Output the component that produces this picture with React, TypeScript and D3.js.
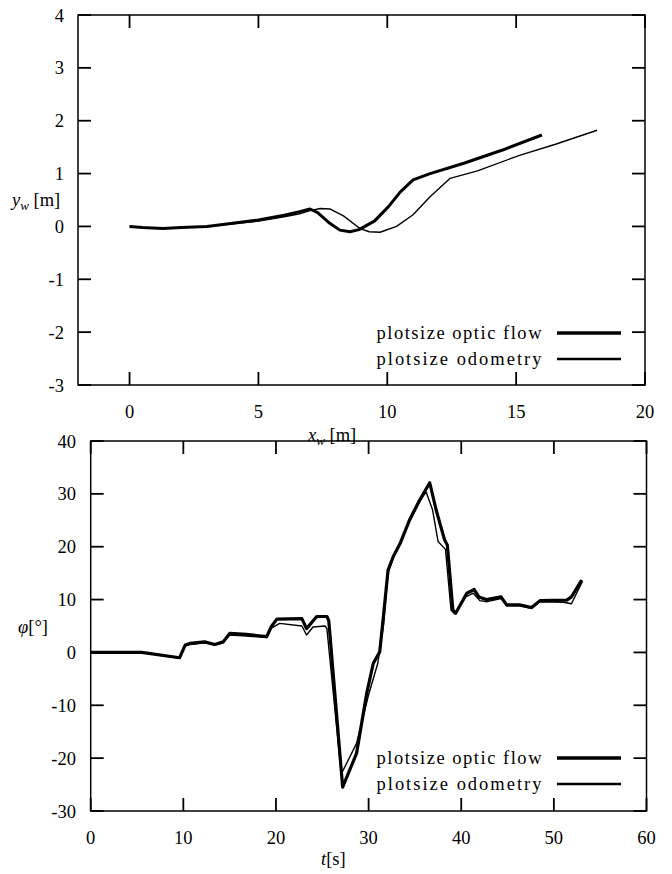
import React from "react";
import * as d3 from "d3";

// top plot: trajectory in world coordinates
const flowX = [0, 0.5, 1.3, 2.0, 3.0, 4.0, 5.0, 6.0, 6.6, 7.0, 7.3, 7.77, 8.16, 8.55, 8.9, 9.5, 10.04, 10.5, 11.0, 11.66, 13.0, 14.5, 16.0];
const flowY = [0, -0.02, -0.04, -0.02, 0.0, 0.06, 0.12, 0.21, 0.28, 0.33, 0.26, 0.06, -0.07, -0.1, -0.06, 0.1, 0.37, 0.65, 0.88, 1.0, 1.2, 1.45, 1.73];
const odoX = [0, 0.5, 1.3, 2.0, 3.0, 4.0, 5.0, 6.0, 6.6, 7.0, 7.4, 7.77, 8.3, 8.94, 9.3, 9.72, 10.36, 11.0, 11.66, 12.44, 13.5, 15.16, 16.5, 18.14];
const odoY = [0, -0.02, -0.04, -0.02, 0.0, 0.05, 0.1, 0.18, 0.24, 0.3, 0.34, 0.33, 0.2, -0.04, -0.1, -0.11, 0.0, 0.22, 0.56, 0.91, 1.05, 1.35, 1.55, 1.82];

// bottom plot: heading over time
const flowT = [0, 5.5, 9.6, 10.2, 10.7, 12.3, 13.4, 14.3, 15.0, 16.8, 19.0, 19.5, 20.1, 22.8, 23.3, 24.4, 25.5, 25.7, 27.2, 28.7, 29.8, 30.5, 31.2, 31.6, 32.1, 32.65, 33.4, 34.4, 35.5, 36.6, 37.3, 38.2, 38.5, 39.1, 39.4, 40.6, 41.4, 41.9, 42.7, 44.3, 44.9, 46.3, 47.6, 48.5, 51.4, 51.9, 53.0];
const flowPhi = [0, 0, -1.0, 1.4, 1.7, 2.0, 1.5, 2.0, 3.6, 3.4, 3.0, 4.9, 6.3, 6.4, 4.5, 6.8, 6.8, 6.0, -25.5, -19.1, -7.7, -2.1, 0.1, 6.8, 15.6, 18.1, 20.6, 25.0, 28.8, 32.1, 26.9, 21.3, 20.3, 8.0, 7.4, 11.2, 11.9, 10.5, 10.0, 10.5, 9.0, 9.0, 8.5, 9.8, 9.9, 10.5, 13.7];
const odoT = [0, 5.5, 9.6, 10.2, 10.7, 12.3, 13.4, 14.3, 15.0, 16.8, 19.0, 19.5, 20.4, 22.8, 23.3, 24.0, 25.3, 25.5, 27.05, 28.7, 30.0, 31.0, 31.6, 32.1, 32.7, 33.5, 34.5, 35.5, 36.2, 36.9, 37.5, 38.3, 38.9, 39.3, 40.5, 41.3, 42.0, 42.8, 44.3, 44.9, 46.3, 47.6, 48.5, 51.0, 51.9, 52.4, 53.1];
const odoPhi = [0, 0, -1.1, 1.2, 1.5, 1.8, 1.4, 1.8, 3.3, 3.1, 2.8, 4.6, 5.5, 5.0, 3.3, 4.8, 5.0, 4.5, -23.0, -17.2, -8.0, -2.0, 5.0, 15.0, 18.0, 21.0, 25.0, 28.5, 30.4, 27.0, 21.0, 19.5, 8.0, 7.3, 10.5, 11.2, 9.8, 9.6, 10.2, 8.8, 8.8, 8.3, 9.6, 9.5, 9.2, 11.0, 13.5];

const legendLabels = ["plotsize optic flow", "plotsize odometry"];

const xTicksTop = [0, 5, 10, 15, 20];
const yTicksTop = [-3, -2, -1, 0, 1, 2, 3, 4];
const xTicksBot = [0, 10, 20, 30, 40, 50, 60];
const yTicksBot = [-30, -20, -10, 0, 10, 20, 30, 40];

const FONT = "Liberation Serif";
const TICK = 13;
const txt = { fontFamily: FONT, fontSize: 18.5 };

function Panel({ x, y, series, xTicks, yTicks, labelRight, legendY }) {
  const [x0, x1] = x.range();
  const [y0, y1] = y.range(); // y0 bottom, y1 top
  return (
    <g>
      {series.map((s, i) => {
        const line = d3
          .line<number>()
          .x((_, j) => x(s.xs[j]))
          .y((_, j) => y(s.ys[j]));
        return (
          <path
            key={i}
            d={line(s.xs) || ""}
            fill="none"
            stroke="#000"
            strokeWidth={s.w}
            strokeLinejoin="round"
          />
        );
      })}
      <rect x={x0} y={y1} width={x1 - x0} height={y0 - y1} fill="none" stroke="#000" strokeWidth={1.5} />
      {xTicks.map((t) => (
        <g key={"x" + t}>
          <line x1={x(t)} x2={x(t)} y1={y0} y2={y0 - TICK} stroke="#000" strokeWidth={1.8} />
          <line x1={x(t)} x2={x(t)} y1={y1} y2={y1 + TICK} stroke="#000" strokeWidth={1.8} />
          <text x={x(t)} y={y0 + 33} textAnchor="middle" style={txt}>
            {t}
          </text>
        </g>
      ))}
      {yTicks.map((t) => (
        <g key={"y" + t}>
          <line x1={x0} x2={x0 + TICK} y1={y(t)} y2={y(t)} stroke="#000" strokeWidth={1.8} />
          <line x1={x1} x2={x1 - TICK} y1={y(t)} y2={y(t)} stroke="#000" strokeWidth={1.8} />
          <text x={labelRight} y={y(t) + 6.5} textAnchor="end" style={txt}>
            {t}
          </text>
        </g>
      ))}
      {legendLabels.map((lab, i) => {
        const ly = legendY[i];
        return (
          <g key={lab}>
            <text x={541.5} y={ly + 5.5} textAnchor="end" style={txt} textLength={165} lengthAdjust="spacing">
              {lab}
            </text>
            <line x1={557} x2={621} y1={ly} y2={ly} stroke="#000" strokeWidth={i === 0 ? 3.6 : 2.6} />
          </g>
        );
      })}
    </g>
  );
}

export default function App() {
  const xTop = d3.scaleLinear().domain([-2, 20]).range([78, 645]);
  const yTop = d3.scaleLinear().domain([-3, 4]).range([385, 15]);
  const xBot = d3.scaleLinear().domain([0, 60]).range([90.7, 646.5]);
  const yBot = d3.scaleLinear().domain([-30, 40]).range([811, 441]);

  return (
    <svg width={672} height={874} style={{ position: "absolute", left: 0, top: 0, background: "#fff" }}>
      <Panel
        x={xTop}
        y={yTop}
        series={[
          { xs: flowX, ys: flowY, w: 3 },
          { xs: odoX, ys: odoY, w: 1.4 },
        ]}
        xTicks={xTicksTop}
        yTicks={yTicksTop}
        labelRight={64}
        legendY={[333, 359]}
      />
      <text x={12} y={206} style={txt}>
        <tspan fontStyle="italic">y</tspan>
        <tspan fontStyle="italic" fontSize={13} dy={4}>w</tspan>
        <tspan dy={-4}> [m]</tspan>
      </text>
      <text x={308} y={441} style={txt}>
        <tspan fontStyle="italic">x</tspan>
        <tspan fontStyle="italic" fontSize={13} dy={4}>w</tspan>
        <tspan dy={-4}> [m]</tspan>
      </text>
      <Panel
        x={xBot}
        y={yBot}
        series={[
          { xs: flowT, ys: flowPhi, w: 3.2 },
          { xs: odoT, ys: odoPhi, w: 1.4 },
        ]}
        xTicks={xTicksBot}
        yTicks={yTicksBot}
        labelRight={76}
        legendY={[758, 784]}
      />
      <text x={18} y={633} style={txt}>
        <tspan fontStyle="italic">φ</tspan>
        <tspan>[°]</tspan>
      </text>
      <text x={321} y={865} style={txt}>
        <tspan fontStyle="italic">t</tspan>
        <tspan>[s]</tspan>
      </text>
    </svg>
  );
}
